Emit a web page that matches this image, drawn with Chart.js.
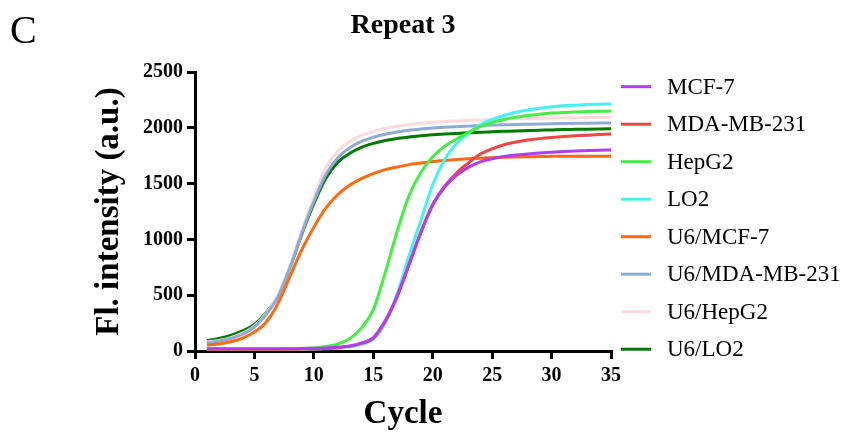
<!DOCTYPE html>
<html>
<head>
<meta charset="utf-8">
<script src="https://cdn.jsdelivr.net/npm/chart.js@4.4.0/dist/chart.umd.min.js"></script>
<style>
  html, body { margin: 0; padding: 0; background: #fff; }
</style>
</head>
<body>
<canvas id="qpcrChart" width="849" height="434"></canvas>
<script>
// Repeat 3 - amplification curves
const cycles = [1,2,3,4,5,6,7,8,9,10,11,12,13,14,15,16,17,18,19,20,21,22,23,24,25,26,27,28,29,30,31,32,33,34,35];

const mcf7 = [20,20,20,20,20,20,20,21,22,24,28,35,45,70,120,270,490,770,1060,1310,1470,1575,1645,1695,1722,1742,1756,1766,1775,1782,1788,1793,1796,1799,1801];
const mda231 = [15,15,15,15,15,15,15,16,17,19,23,30,42,68,115,265,485,775,1065,1310,1475,1595,1685,1765,1812,1848,1872,1890,1903,1913,1921,1928,1934,1939,1944];
const hepg2 = [15,15,15,15,15,15,16,18,21,27,40,62,110,205,370,700,1070,1390,1600,1740,1835,1900,1958,2010,2048,2075,2095,2110,2122,2132,2138,2142,2145,2148,2150];
const lo2 = [12,12,12,12,12,12,12,13,14,16,20,26,37,60,105,250,510,850,1170,1490,1715,1860,1950,2030,2075,2110,2140,2160,2175,2188,2197,2203,2208,2211,2213];
const u6Mcf7 = [54,63,83,116,170,260,430,670,910,1110,1280,1400,1485,1545,1590,1625,1648,1670,1684,1698,1708,1716,1722,1728,1732,1736,1739,1741,1743,1744,1745,1746,1746,1745,1745];
const u6Mda231 = [72,88,112,150,215,330,490,750,1060,1340,1580,1730,1820,1878,1915,1942,1962,1978,1989,1998,2004,2010,2015,2020,2024,2027,2030,2032,2034,2036,2038,2040,2041,2042,2043];
const u6Hepg2 = [80,95,120,160,225,340,500,760,1080,1380,1640,1790,1875,1932,1966,1994,2014,2028,2040,2049,2056,2062,2067,2071,2075,2078,2080,2083,2085,2088,2090,2091,2093,2094,2095];
const u6Lo2 = [92,112,140,180,238,345,495,750,1050,1320,1545,1690,1770,1825,1860,1886,1905,1917,1928,1937,1944,1950,1955,1960,1964,1968,1972,1975,1978,1981,1984,1986,1988,1990,1992];

const seriesLabels = ['MCF-7', 'MDA-MB-231', 'HepG2', 'LO2', 'U6/MCF-7', 'U6/MDA-MB-231', 'U6/HepG2', 'U6/LO2'];
const seriesValues = [mcf7, mda231, hepg2, lo2, u6Mcf7, u6Mda231, u6Hepg2, u6Lo2];
const seriesColors = ['#b43cf0', '#f44444', '#44ee44', '#44f2f4', '#ff6a10', '#8eaad6', '#fadadd', '#007a00'];

const yTicks = [0, 500, 1000, 1500, 2000, 2500];
const xTicks = [0, 5, 10, 15, 20, 25, 30, 35];

const SERIF = '"Liberation Serif", "Times New Roman", serif';

// title, panel letter and legend drawn by hand
const decorPlugin = {
    id: 'decor',
    afterDraw(chart) {
        const ctx = chart.ctx;
        ctx.save();
        ctx.fillStyle = '#000';
        ctx.textBaseline = 'alphabetic';
        ctx.textAlign = 'left';
        ctx.font = `40px ${SERIF}`;
        ctx.fillText('C', 10, 43);
        ctx.font = `bold 28px ${SERIF}`;
        ctx.textAlign = 'center';
        ctx.fillText('Repeat 3', 403, 33);

        ctx.textAlign = 'left';
        ctx.textBaseline = 'middle';
        ctx.font = `23px ${SERIF}`;
        chart.data.datasets.forEach((ds, i) => {
            const y = 86.7 + i * 37.5;
            ctx.strokeStyle = ds.borderColor;
            ctx.lineWidth = 3;
            ctx.beginPath();
            ctx.moveTo(621, y);
            ctx.lineTo(651, y);
            ctx.stroke();
            ctx.fillText(ds.label, 667, y + 1);
        });
        ctx.restore();
    }
};

const datasets = seriesLabels.map((label, i) => ({
    label: label,
    data: cycles.map((c, j) => ({ x: c, y: seriesValues[i][j] })),
    borderColor: seriesColors[i],
    backgroundColor: seriesColors[i],
    borderWidth: 3,
    pointRadius: 0,
    cubicInterpolationMode: 'monotone',
    fill: false
}));

const axisTickFont = { family: SERIF, size: 20, weight: 'bold' };

new Chart(document.getElementById('qpcrChart').getContext('2d'), {
    type: 'line',
    data: { datasets: datasets },
    options: {
        responsive: false,
        devicePixelRatio: 1,
        animation: false,
        layout: { padding: { top: 72, right: 238, left: 0, bottom: 0 } },
        plugins: {
            legend: { display: false },
            tooltip: { enabled: false }
        },
        scales: {
            x: {
                type: 'linear',
                min: 0,
                max: 35,
                afterFit: (scale) => { scale.height = 83; },
                afterBuildTicks: (scale) => { scale.ticks = xTicks.map(v => ({ value: v })); },
                border: { display: true, color: '#000', width: 3 },
                grid: { display: true, drawOnChartArea: false, drawTicks: true, tickLength: 8, lineWidth: 3, color: '#000' },
                ticks: { color: '#000', font: axisTickFont, padding: 5, maxRotation: 0, callback: (v) => String(v) },
                title: {
                    display: true,
                    text: 'Cycle',
                    color: '#000',
                    font: { family: SERIF, size: 33, weight: 'bold' },
                    padding: { top: 0, bottom: 0 }
                }
            },
            y: {
                min: 0,
                max: 2500,
                afterFit: (scale) => { scale.width = 195; },
                afterBuildTicks: (scale) => { scale.ticks = yTicks.map(v => ({ value: v })); },
                border: { display: true, color: '#000', width: 3 },
                grid: { display: true, drawOnChartArea: false, drawTicks: true, tickLength: 8, lineWidth: 3, color: '#000' },
                ticks: { color: '#000', font: axisTickFont, padding: 4, callback: (v) => String(v) },
                title: {
                    display: true,
                    text: 'Fl. intensity (a.u.)',
                    color: '#000',
                    font: { family: SERIF, size: 33, weight: 'bold' },
                    padding: { top: 90, bottom: 0 }
                }
            }
        }
    },
    plugins: [decorPlugin]
});
</script>
</body>
</html>
